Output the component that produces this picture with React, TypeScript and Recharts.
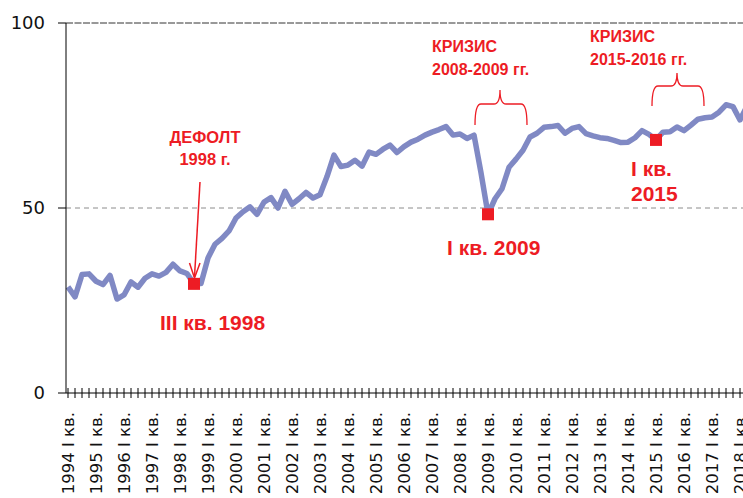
import React from 'react'
import { LineChart, Line, XAxis, YAxis, ReferenceLine } from 'recharts'

const YEARS = [
  1994, 1995, 1996, 1997, 1998, 1999, 2000, 2001, 2002, 2003, 2004, 2005,
  2006, 2007, 2008, 2009, 2010, 2011, 2012, 2013, 2014, 2015, 2016, 2017, 2018,
]
const QUARTERS = ['I', 'II', 'III', 'IV']

// quarterly index, 1994 I кв. .. 2018 II кв.
const INDEX_VALUES = [
  28.7, 26.0, 32.0, 32.2,
  30.2, 29.3, 31.8, 25.4,
  26.5, 30.0, 28.6, 31.0,
  32.2, 31.6, 32.6, 34.8,
  33.0, 32.3, 29.5, 29.6,
  36.5, 40.2, 41.8, 43.8,
  47.3, 49.0, 50.3, 48.3,
  51.6, 52.8, 50.0, 54.5,
  51.0, 52.5, 54.2, 52.7,
  53.6, 58.5, 64.3, 61.2,
  61.6, 62.9, 61.3, 65.1,
  64.5, 65.9, 67.0, 65.0,
  66.6, 67.8, 68.6, 69.7,
  70.5, 71.2, 72.0, 69.7,
  70.0, 68.8, 69.7, 59.5,
  48.3, 52.5, 55.2, 61.0,
  63.2, 65.6, 69.2, 70.2,
  71.8, 72.0, 72.3, 70.2,
  71.5, 72.0, 70.1, 69.5,
  69.0, 68.8, 68.3, 67.7,
  67.8, 69.0, 70.9, 69.9,
  68.4, 70.5, 70.6, 71.9,
  70.9, 72.4, 74.0, 74.4,
  74.6, 75.9, 77.9, 77.4,
  73.8, 77.5,
]

const MARKED = ['1998 III кв.', '2009 I кв.', '2015 I кв.']
const Y_TICKS = [0, 50, 100]

const RED = '#ed1c24'

const labels = YEARS.flatMap((y) => QUARTERS.map((q) => `${y} ${q} кв.`))
const data = INDEX_VALUES.map((v, i) => ({ q: labels[i], v }))

function QuarterTick(props: any) {
  const { x, y, payload } = props
  const label: string = payload.value
  const isFirst = label.split(' ')[1] === 'I'
  const ty = y + 19
  return (
    <g>
      <line x1={x} x2={x} y1={y - 5} y2={y + 5} stroke="#000" />
      {isFirst && (
        <text
          x={x}
          y={ty}
          dy="0.36em"
          transform={`rotate(-90 ${x} ${ty})`}
          textAnchor="end"
          fontFamily="DejaVu Sans"
          fontSize={16.5}
          fill="#111"
        >
          {label}
        </text>
      )}
    </g>
  )
}

// y labels end ~21px left of the axis line
function ValueTick(props: any) {
  const { y, payload } = props
  return (
    <text x={45} y={y} dy="0.36em" textAnchor="end" fontFamily="DejaVu Sans" fontSize={18} fill="#111">
      {payload.value}
    </text>
  )
}

function MarkDot(props: any) {
  const { cx, cy, payload, index } = props
  if (!MARKED.includes(payload.q)) return <g key={index} />
  return <rect key={index} x={cx - 6} y={cy - 6} width={12} height={12} fill={RED} />
}

function brace(x1: number, xm: number, x2: number, tip: number, bar: number, end: number) {
  const r = 6
  return `M${x1},${end} Q${x1},${bar} ${x1 + r},${bar} L${xm - r},${bar} Q${xm},${bar} ${xm},${tip} ` +
    `Q${xm},${bar} ${xm + r},${bar} L${x2 - r},${bar} Q${x2},${bar} ${x2},${end}`
}

function Notes() {
  const t = { fontFamily: 'Liberation Sans', fontWeight: 700, fill: RED, whiteSpace: 'pre' } as any
  return (
    <svg width={743} height={498} style={{ position: 'absolute', left: 0, top: 0, pointerEvents: 'none' }}>
      <text {...t} x={205} y={143} fontSize={16.5} textAnchor="middle">ДЕФОЛТ</text>
      <text {...t} x={205} y={165} fontSize={16.5} textAnchor="middle">1998 г.</text>
      <line x1={200} y1={182} x2={194.5} y2={277} stroke={RED} strokeWidth={1.5} />
      <path d="M189.5,263 L194.5,278 L200,263" fill="none" stroke={RED} strokeWidth={1.5} />
      <text {...t} x={160} y={330} fontSize={21}>III кв. 1998</text>
      <text {...t} x={447} y={255} fontSize={21}>I кв. 2009</text>
      <text {...t} x={631} y={176} fontSize={21}>I кв.</text>
      <text {...t} x={631} y={201} fontSize={21}>2015</text>
      <text {...t} x={432} y={52} fontSize={16}>КРИЗИС</text>
      <text {...t} x={432} y={75} fontSize={16}>2008-2009  гг.</text>
      <text {...t} x={590} y={42} fontSize={16}>КРИЗИС</text>
      <text {...t} x={590} y={65} fontSize={16}>2015-2016  гг.</text>
      <path d={brace(475, 500, 527, 90, 104, 125)} fill="none" stroke={RED} strokeWidth={1.3} />
      <path d={brace(652, 677, 704, 73, 86, 106)} fill="none" stroke={RED} strokeWidth={1.3} />
    </svg>
  )
}

export default function App() {
  return (
    <div style={{ position: 'absolute', left: 0, top: 0, width: 743, height: 498, overflow: 'hidden', background: '#fff' }}>
      <LineChart width={747} height={498} data={data} margin={{ top: 23, right: 0, bottom: 0, left: 8 }}>
        <ReferenceLine y={50} stroke="#8c8c8c" strokeDasharray="5 4" />
        <ReferenceLine y={100} stroke="#333" strokeDasharray="7 1.5" />
        <XAxis
          dataKey="q"
          interval={0}
          height={105}
          padding={{ left: 2, right: 0 }}
          tickSize={0}
          tickMargin={0}
          tickLine={false}
          axisLine={{ stroke: '#000' }}
          tick={<QuarterTick />}
        />
        <YAxis
          domain={[0, 100]}
          ticks={Y_TICKS}
          width={58}
          tickSize={8}
          tickMargin={0}
          axisLine={{ stroke: '#000' }}
          tickLine={{ stroke: '#000' }}
          tick={<ValueTick />}
        />
        <Line
          type="linear"
          dataKey="v"
          stroke="#8089c4"
          strokeWidth={5.5}
          strokeLinejoin="round"
          dot={MarkDot}
          activeDot={false}
          isAnimationActive={false}
        />
      </LineChart>
      <Notes />
    </div>
  )
}
